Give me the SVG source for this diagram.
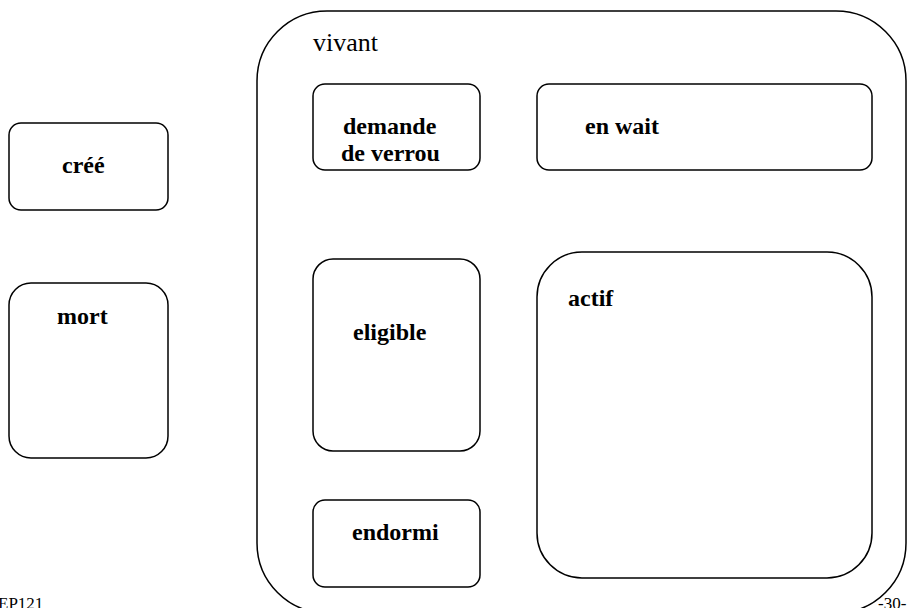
<svg xmlns="http://www.w3.org/2000/svg" width="907" height="608" viewBox="0 0 907 608">
<style>
.box{fill:#fff;stroke:#000;stroke-width:1.5}
text{font-family:'Liberation Serif',serif;fill:#000}
.lbl{font-weight:bold;font-size:24px}
.reg{font-size:26px}
.foot{font-size:17px}
</style>
<rect width="907" height="608" fill="#fff"/>
<g id="vivant">
<rect class="box" x="257" y="11" width="649" height="602" rx="70" ry="70"/>
<text class="reg" x="313" y="51">vivant</text>
</g>
<g id="cree">
<rect class="box" x="9" y="123" width="159" height="87" rx="12" ry="12"/>
<text class="lbl" x="62" y="173">créé</text>
</g>
<g id="mort">
<rect class="box" x="9" y="283" width="159" height="175" rx="22" ry="22"/>
<text class="lbl" x="57" y="324">mort</text>
</g>
<g id="demande">
<rect class="box" x="313" y="84" width="167" height="86" rx="12" ry="12"/>
<text class="lbl" x="343" y="134">demande</text>
<text class="lbl" x="341" y="161">de verrou</text>
</g>
<g id="enwait">
<rect class="box" x="537" y="84" width="335" height="86" rx="12" ry="12"/>
<text class="lbl" x="585" y="134">en wait</text>
</g>
<g id="eligible">
<rect class="box" x="313" y="259" width="167" height="192" rx="20" ry="20"/>
<text class="lbl" x="353" y="340">eligible</text>
</g>
<g id="endormi">
<rect class="box" x="313" y="500" width="167" height="87" rx="12" ry="12"/>
<text class="lbl" x="352" y="540">endormi</text>
</g>
<g id="actif">
<rect class="box" x="537" y="252" width="335" height="326" rx="45" ry="45"/>
<text class="lbl" x="568" y="306">actif</text>
</g>
<g id="connectors"></g>
<text class="foot" x="-2" y="609">EP121</text>
<text class="foot" x="878" y="609">-30-</text>
</svg>
